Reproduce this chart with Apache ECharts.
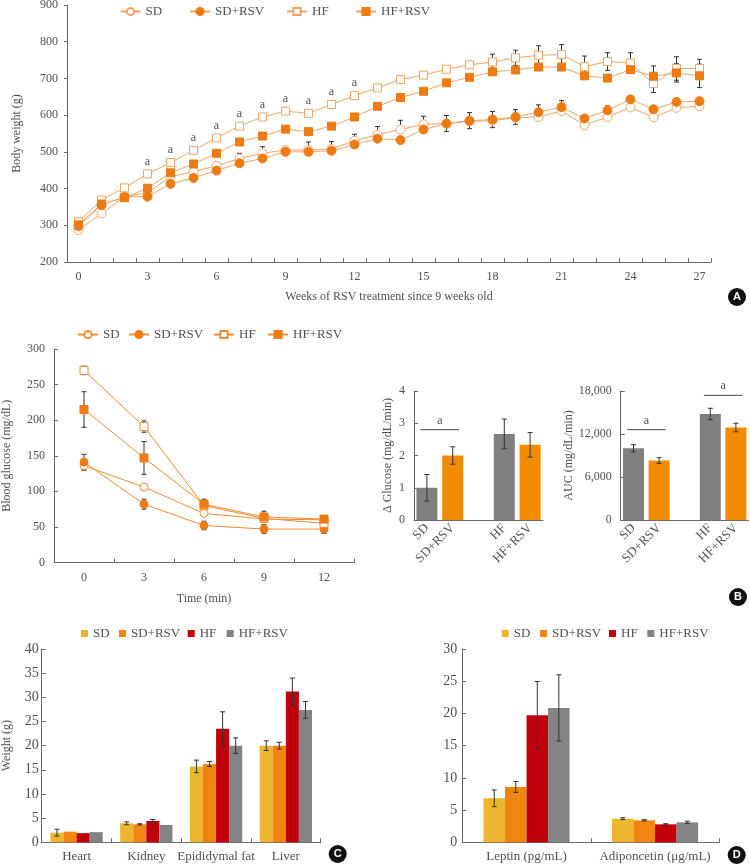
<!DOCTYPE html>
<html><head><meta charset="utf-8">
<script src="https://cdn.jsdelivr.net/npm/echarts@6/dist/echarts.min.js"></script>
<style>
html,body{margin:0;padding:0;background:#fff;width:750px;height:864px;overflow:hidden;}
.c{position:absolute;}
</style></head><body>
<div id="A" class="c" style="left:0;top:0;width:750px;height:320px"></div>
<div id="B" class="c" style="left:0;top:320px;width:750px;height:290px"></div>
<div id="C" class="c" style="left:0;top:610px;width:375px;height:254px"></div>
<div id="D" class="c" style="left:375px;top:610px;width:375px;height:254px"></div>
<script>
// ---------------- DATA ----------------
const groupNames = ['SD', 'SD+RSV', 'HF', 'HF+RSV'];

// Panel A: body weight (g) by week
const weeks = ['0','1','2','3','4','5','6','7','8','9','10','11','12','13','14','15','16','17','18','19','20','21','22','23','24','25','26','27'];
const bwSD     = [287,332,378,389,432,446,462,482,496,505,505,508,530,547,561,575,577,583,585,593,595,611,573,595,621,594,620,624];
const bwSDRSV  = [298,355,378,378,413,429,449,469,482,500,500,503,520,536,532,561,577,585,588,595,608,622,591,613,643,616,636,638];
const bwHF     = [310,369,402,440,471,504,538,570,595,611,605,629,653,674,697,709,725,737,745,756,763,765,732,746,742,686,727,727];
const bwHFRSV  = [301,358,375,401,443,467,496,527,543,562,555,570,595,624,648,665,688,703,718,723,731,731,707,701,724,706,715,707];
const bwErrSD    = [0,0,0,0,0,0,0,14,18,0,22,20,18,22,25,22,0,0,0,0,0,0,0,0,0,0,0,0];
const bwErrSDRSV = [0,0,0,0,0,0,0,0,0,0,0,0,0,0,0,0,22,22,22,20,20,18,0,12,0,0,0,0];
const bwErrHF    = [0,0,0,0,0,0,0,0,0,0,0,0,0,0,0,0,0,0,21,21,26,27,29,24,28,24,32,25];
const bwErrHFRSV = [0,0,0,0,0,0,0,0,0,0,0,0,0,0,0,0,0,0,0,0,0,0,0,0,0,28,25,32];
const sigWeeks = [3,4,5,6,7,8,9,10,11,12];
const bwTicks = [200,900,100];

// Panel B: glucose tolerance
const times = ['0','3','6','9','12'];
const bgSD     = [136,106,69,61,60];
const bgSDRSV  = [141,82,52,47,47];
const bgHF     = [270,191,80,62,55];
const bgHFRSV  = [215,147,82,64,61];
const bgErrSD    = [6,3,0,0,0];
const bgErrSDRSV = [11,7,6,6,6];
const bgErrHF    = [6,8,0,0,0];
const bgErrHFRSV = [25,23,7,8,3];

const glcGroups = ['SD','SD+RSV','','HF','HF+RSV'];
const dGlucose    = [1.0, 2.0, null, 2.67, 2.33];
const dGlucoseErr = [0.41, 0.27, null, 0.46, 0.38];
const auc    = [10000, 8300, null, 14800, 12900];
const aucErr = [500, 400, null, 790, 600];
const sigDG  = [[0, 1, 2.8]];
const sigAUC = [[0, 1, 12600], [3, 4, 17400]];

// Panel C: organ weights (g)
const organs = ['Heart','Kidney','Epididymal fat','Liver'];
const orgSD     = [2.0, 3.93, 15.7, 20.0];
const orgSDRSV  = [2.2, 3.72, 16.2, 20.0];
const orgHF     = [1.9, 4.41, 23.5, 31.2];
const orgHFRSV  = [2.1, 3.59, 20.0, 27.4];
const orgErrSD    = [0.7, 0.3, 1.3, 1.0];
const orgErrSDRSV = [0, 0.12, 0.5, 0.7];
const orgErrHF    = [0, 0.3, 3.5, 2.8];
const orgErrHFRSV = [0, 0, 1.6, 1.75];

// Panel D: serum hormones
const hormones = ['Leptin (pg/mL)', 'Adiponcetin (\u03bcg/mL)'];
const hSD     = [6.83, 3.67];
const hSDRSV  = [8.59, 3.41];
const hHF     = [19.7, 2.79];
const hHFRSV  = [20.85, 3.10];
const hErrSD    = [1.3, 0.15];
const hErrSDRSV = [0.85, 0.1];
const hErrHF    = [5.25, 0.1];
const hErrHFRSV = [5.15, 0.18];

// ---------------- STYLE ----------------
const FONT = 'Liberation Serif';
const TXT = '#505050';
const AX = '#6a6a6a';
const LINE_A = '#F2A468', FILL_A = '#EE7B12';
const LINE_B = '#EF8C34', FILL_B = '#EE7B12';
const BAR_C = ['#ECB52E', '#F08512', '#C0000B', '#848484'];
const GLC_COL = ['#808080', '#F28B00', null, '#808080', '#F28B00'];
const ERR = '#333';

function txt(size) { return { fontFamily: FONT, fontSize: size, color: TXT }; }

function badge(letter, cx, cy) {
  return [
    { type: 'circle', shape: { cx: cx, cy: cy, r: 9 }, style: { fill: '#111' }, z: 100 },
    { type: 'text', x: cx, y: cy, z: 101,
      style: { text: letter, x: 0, y: 0, align: 'center', verticalAlign: 'middle', fill: '#fff',
        font: 'bold 11px "Liberation Sans"' } }
  ];
}

function errSeries(xi, yi, vals, errs, mode, opts) {
  opts = opts || {};
  const data = [];
  vals.forEach((v, i) => { if (v != null && errs[i]) data.push([i, v, errs[i]]); });
  return {
    type: 'custom', xAxisIndex: xi, yAxisIndex: yi, silent: true, z: opts.z || 1, data: data,
    renderItem: function (p, api) {
      const x = api.value(0), y = api.value(1), e = api.value(2);
      const c = api.coord([x, y]);
      let cx = c[0];
      if (opts.n) {
        const band = api.size([1, 0])[0];
        const bw = band * (1 - opts.gap) / opts.n;
        cx = c[0] + (opts.idx - (opts.n - 1) / 2) * bw;
      }
      const t = api.coord([x, y + e])[1];
      const b = mode === '+' ? c[1] : api.coord([x, y - e])[1];
      const cap = opts.cap || 2.5;
      const st = { stroke: ERR, lineWidth: 1 };
      const ch = [
        { type: 'line', shape: { x1: cx, y1: t, x2: cx, y2: b }, style: st },
        { type: 'line', shape: { x1: cx - cap, y1: t, x2: cx + cap, y2: t }, style: st }
      ];
      if (mode !== '+') ch.push({ type: 'line', shape: { x1: cx - cap, y1: b, x2: cx + cap, y2: b }, style: st });
      return { type: 'group', children: ch };
    }
  };
}

function sigSeries(xi, yi, data) {
  return {
    type: 'custom', xAxisIndex: xi, yAxisIndex: yi, silent: true, z: 5, data: data,
    renderItem: function (p, api) {
      const a = api.coord([api.value(0), api.value(2)]);
      const b = api.coord([api.value(1), api.value(2)]);
      const band = api.size([1, 0])[0];
      const x0 = a[0] - band * 0.25, x1 = b[0] + band * 0.25;
      return { type: 'group', children: [
        { type: 'line', shape: { x1: x0, y1: a[1], x2: x1, y2: a[1] }, style: { stroke: '#444', lineWidth: 1 } },
        { type: 'text', style: { text: 'a', x: (x0 + x1) / 2, y: a[1] - 3, align: 'center', verticalAlign: 'bottom',
            fill: TXT, font: '12px "' + FONT + '"' } }
      ] };
    }
  };
}

function lineLegends(lefts, top) {
  return groupNames.map((n, i) => ({
    data: [n], left: lefts[i], top: top, padding: 0, itemWidth: 20, itemHeight: 9,
    textStyle: txt(13), selectedMode: false
  }));
}
function barLegends(lefts, top) {
  return groupNames.map((n, i) => ({
    data: [n], left: lefts[i], top: top, padding: 0, itemWidth: 7, itemHeight: 7, icon: 'rect',
    textStyle: txt(13), selectedMode: false
  }));
}

function lineSer(name, data, xi, yi, symbol, filled, lineC, fillC, size, extra) {
  const s = {
    name: name, type: 'line', xAxisIndex: xi, yAxisIndex: yi, data: data, z: 3,
    symbol: symbol, symbolSize: size, showSymbol: true,
    lineStyle: { color: lineC, width: 1 },
    itemStyle: filled ? { color: fillC, borderColor: fillC, borderWidth: 1 }
                      : { color: '#fff', borderColor: lineC, borderWidth: 1 },
    emphasis: { disabled: true }
  };
  return Object.assign(s, extra || {});
}

const axisLine = { show: true, lineStyle: { color: AX, width: 1 } };

// ---------------- PANEL A ----------------
const chartA = echarts.init(document.getElementById('A'));
chartA.setOption({
  animation: false,
  legend: lineLegends([119.6, 189, 286, 355], 5),
  grid: { left: 67, top: 5, width: 644, height: 257, containLabel: false, outerBoundsMode: 'none' },
  xAxis: {
    type: 'category', data: weeks, boundaryGap: true,
    axisLine: axisLine,
    axisTick: { show: true, inside: true, length: 4, interval: 0, lineStyle: { color: AX } },
    axisLabel: Object.assign(txt(12), { interval: 2, margin: 9 }),
    name: 'Weeks of RSV treatment since 9 weeks old', nameLocation: 'middle', nameGap: 29,
    nameTextStyle: txt(12), splitLine: { show: false }
  },
  yAxis: {
    type: 'value', min: bwTicks[0], max: bwTicks[1], interval: bwTicks[2],
    axisLine: axisLine,
    axisTick: { show: true, inside: false, length: 3, lineStyle: { color: AX } },
    axisLabel: Object.assign(txt(12), { margin: 9 }),
    splitLine: { show: false },
    name: 'Body weight (g)', nameLocation: 'middle', nameGap: 44, nameTextStyle: txt(12)
  },
  series: [
    errSeries(0, 0, bwSD, bwErrSD, '+'),
    errSeries(0, 0, bwSDRSV, bwErrSDRSV, '±'),
    errSeries(0, 0, bwHF, bwErrHF, '±'),
    errSeries(0, 0, bwHFRSV, bwErrHFRSV, '±'),
    lineSer('SD', bwSD, 0, 0, 'circle', false, LINE_A, FILL_A, 9),
    lineSer('SD+RSV', bwSDRSV, 0, 0, 'circle', true, LINE_A, FILL_A, 9),
    lineSer('HF', bwHF, 0, 0, 'rect', false, LINE_A, FILL_A, 8, {
      label: { show: true, position: 'top', distance: 2, fontFamily: FONT, fontSize: 12, color: TXT,
        formatter: p => sigWeeks.indexOf(p.dataIndex) >= 0 ? 'a' : '' }
    }),
    lineSer('HF+RSV', bwHFRSV, 0, 0, 'rect', true, LINE_A, FILL_A, 8)
  ],
  graphic: badge('A', 737, 297)
});

// ---------------- PANEL B ----------------
const chartB = echarts.init(document.getElementById('B'));
const gridsB = [
  { left: 54, top: 29, width: 300, height: 213.5 },
  { left: 414, top: 71, width: 129, height: 129 },
  { left: 620.7, top: 71, width: 128, height: 129 }
].map(g => Object.assign(g, { containLabel: false, outerBoundsMode: 'none' }));

function barData(vals, cols) {
  return vals.map((v, i) => v == null ? null : { value: v, itemStyle: { color: cols[i] } });
}

chartB.setOption({
  animation: false,
  legend: lineLegends([77, 128, 213, 267], 8),
  grid: gridsB,
  xAxis: [
    { gridIndex: 0, type: 'category', data: times, boundaryGap: true, axisLine: axisLine,
      axisTick: { show: true, inside: true, length: 4, lineStyle: { color: AX } },
      axisLabel: Object.assign(txt(12), { margin: 9 }),
      name: 'Time (min)', nameLocation: 'middle', nameGap: 30, nameTextStyle: txt(12) },
    { gridIndex: 1, type: 'category', data: glcGroups, boundaryGap: true, axisLine: axisLine,
      axisTick: { show: false }, axisLabel: Object.assign(txt(13), { rotate: 45, margin: 6, interval: 0 }) },
    { gridIndex: 2, type: 'category', data: glcGroups, boundaryGap: true, axisLine: axisLine,
      axisTick: { show: false }, axisLabel: Object.assign(txt(13), { rotate: 45, margin: 6, interval: 0 }) }
  ],
  yAxis: [
    { gridIndex: 0, type: 'value', min: 0, max: 300, interval: 50, axisLine: axisLine,
      axisTick: { show: true, inside: true, length: 4, lineStyle: { color: AX } },
      axisLabel: Object.assign(txt(12), { margin: 9 }), splitLine: { show: false },
      name: 'Blood glucose (mg/dL)', nameLocation: 'middle', nameGap: 41, nameTextStyle: txt(12) },
    { gridIndex: 1, type: 'value', min: 0, max: 4, interval: 1, axisLine: axisLine,
      axisTick: { show: true, inside: true, length: 4, lineStyle: { color: AX } },
      axisLabel: Object.assign(txt(12), { margin: 9 }), splitLine: { show: false },
      name: '\u0394 Glucose (mg/dL/min)', nameLocation: 'middle', nameGap: 20, nameTextStyle: txt(12) },
    { gridIndex: 2, type: 'value', min: 0, max: 18000, interval: 6000, axisLine: axisLine,
      axisTick: { show: true, inside: true, length: 4, lineStyle: { color: AX } },
      axisLabel: Object.assign(txt(12), { margin: 9, formatter: v => v.toLocaleString('en-US') }),
      splitLine: { show: false },
      name: 'AUC (mg/dL/min)', nameLocation: 'middle', nameGap: 42, nameTextStyle: txt(12) }
  ],
  series: [
    errSeries(0, 0, bgSD, bgErrSD, '±'),
    errSeries(0, 0, bgSDRSV, bgErrSDRSV, '±'),
    errSeries(0, 0, bgHF, bgErrHF, '±'),
    errSeries(0, 0, bgHFRSV, bgErrHFRSV, '±'),
    lineSer('SD', bgSD, 0, 0, 'circle', false, LINE_B, FILL_B, 8),
    lineSer('SD+RSV', bgSDRSV, 0, 0, 'circle', true, LINE_B, FILL_B, 8),
    lineSer('HF', bgHF, 0, 0, 'rect', false, LINE_B, FILL_B, 8),
    lineSer('HF+RSV', bgHFRSV, 0, 0, 'rect', true, LINE_B, FILL_B, 8),
    { name: 'dglu', type: 'bar', xAxisIndex: 1, yAxisIndex: 1, barWidth: 21, data: barData(dGlucose, GLC_COL), z: 2 },
    errSeries(1, 1, dGlucose, dGlucoseErr, '±', { z: 4 }),
    sigSeries(1, 1, sigDG),
    { name: 'auc', type: 'bar', xAxisIndex: 2, yAxisIndex: 2, barWidth: 21, data: barData(auc, GLC_COL), z: 2 },
    errSeries(2, 2, auc, aucErr, '±', { z: 4 }),
    sigSeries(2, 2, sigAUC)
  ],
  graphic: badge('B', 738, 277)
});

// ---------------- PANEL C & D ----------------
function barPanel(el, cats, vals, errs, grid, yMax, yName, lefts, gap, badgeArgs, nameGap) {
  const ch = echarts.init(document.getElementById(el));
  const series = [];
  vals.forEach((v, i) => {
    series.push({ name: groupNames[i], type: 'bar', data: v, barGap: '0%', barCategoryGap: (gap * 100) + '%',
      itemStyle: { color: BAR_C[i] }, z: 2, emphasis: { disabled: true } });
  });
  vals.forEach((v, i) => {
    series.push(errSeries(0, 0, v, errs[i], '±', { n: 4, idx: i, gap: gap, z: 4 }));
  });
  ch.setOption({
    animation: false,
    legend: barLegends(lefts, 17),
    grid: Object.assign(grid, { containLabel: false, outerBoundsMode: 'none' }),
    xAxis: { type: 'category', data: cats, boundaryGap: true, axisLine: axisLine,
      axisTick: { show: true, inside: true, length: 4, interval: 0, lineStyle: { color: AX } },
      axisLabel: Object.assign(txt(13), { margin: 8, interval: 0 }) },
    yAxis: { type: 'value', min: 0, max: yMax, interval: 5, axisLine: axisLine,
      axisTick: { show: true, inside: true, length: 4, lineStyle: { color: AX } },
      axisLabel: Object.assign(txt(14), { margin: yName ? 3 : 5 }), splitLine: { show: false },
      name: yName, nameLocation: 'middle', nameGap: nameGap, nameTextStyle: txt(12) },
    series: series,
    graphic: badge.apply(null, badgeArgs)
  });
}

barPanel('C', organs, [orgSD, orgSDRSV, orgHF, orgHFRSV], [orgErrSD, orgErrSDRSV, orgErrHF, orgErrHFRSV],
  { left: 41.7, top: 39, width: 279, height: 193.3 }, 40, 'Weight (g)', [81, 119, 187.7, 226.7], 0.25,
  ['C', 337.7, 244], 29);
barPanel('D', hormones, [hSD, hSDRSV, hHF, hHFRSV], [hErrSD, hErrSDRSV, hErrHF, hErrHFRSV],
  { left: 87.3, top: 39, width: 257, height: 193.3 }, 30, '', [126.7, 165, 234, 272.3], 0.33,
  ['D', 361.7, 245], 30);
</script>
</body></html>
